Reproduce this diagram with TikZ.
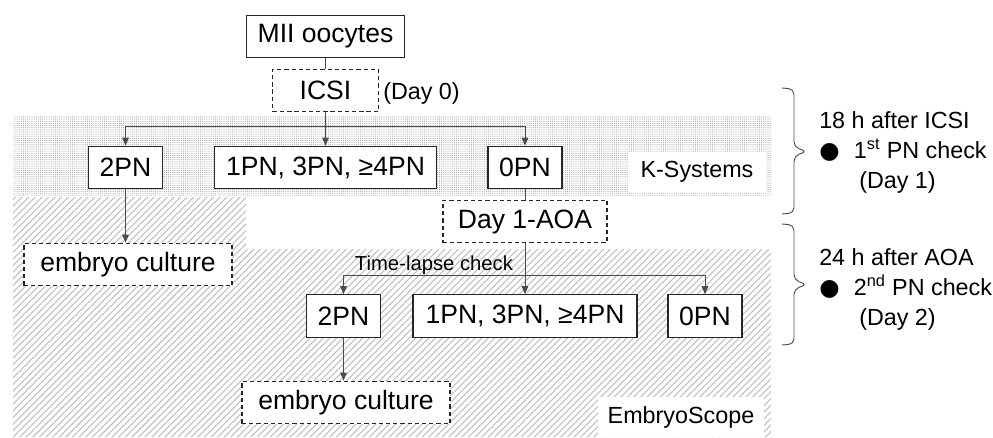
\documentclass[tikz,border=0pt]{standalone}
\usepackage{fontspec}
\setmainfont{Liberation Sans}
\newfontfamily\symfont{DejaVu Sans}
\usetikzlibrary{arrows.meta,calc,patterns.meta}

\begin{document}
\begin{tikzpicture}[
		x=0.75pt,
		y=-0.75pt,
		>={Triangle[length=6pt,width=5pt]},
		box/.style={draw=black!85,line width=0.8pt,inner sep=0pt,minimum height=32pt,fill=white,font=\fontsize{19.9}{24}\selectfont},
		dbox/.style={box,dash pattern=on 3.2pt off 2.2pt},
		flow/.style={->,draw=black!70,line width=0.7pt},
		link/.style={draw=black!70,line width=0.7pt},
		tag/.style={fill=white,inner sep=0pt,font=\fontsize{17.5}{21}\selectfont},
		note/.style={align=left,inner sep=0pt,anchor=west,font=\fontsize{17.5}{22.5}\selectfont},
		span/.style={draw=black!70,line width=0.7pt,rounded corners=4pt}
		]
		
		\useasboundingbox (0,0) rectangle (993,437);
		
		% =====================================================
		% Culture systems (background areas)
		% =====================================================
		\fill[pattern={Dots[distance=1.6pt,radius=0.4pt]},pattern color=gray!80]
		(13,116) rectangle (771,195);
		\fill[pattern={Lines[angle=45,distance=3.5pt,line width=0.8pt]},pattern color=gray!50]
		(13,197) -- (246,197) -- (246,249) -- (771,249) -- (771,437) -- (13,437) -- cycle;
		
		\node[tag,minimum width=103pt,minimum height=30pt] (ksys) at (697,172) {K-Systems};
		\node[tag,minimum width=125pt,minimum height=30pt] (escope) at (681,417) {EmbryoScope};
		
		% =====================================================
		% First PN check
		% =====================================================
		\node[box,minimum width=119pt] (oocytes) at (325.5,36.5) {MII oocytes};
		\node[dbox,minimum width=79pt] (icsi) at (325.5,90.5) {ICSI};
		\node[tag,fill=none,anchor=west] (dayzero) at (383,93) {(Day 0)};
		
		\node[box,minimum width=55pt] (twopnA) at (125.5,167.5) {2PN};
		\node[box,minimum width=167pt] (multipnA) at (325.5,167.5) {1PN, 3PN, ≥4PN};
		\node[box,minimum width=55.5pt] (zeropnA) at (525,167.5) {0PN};
		
		\node[dbox,minimum width=156pt] (cultA) at (128,264.5) {embryo culture};
		
		\coordinate (splitA) at (325.5,126);
		
		\draw[link] (oocytes) -- (icsi);
		\draw[flow] (icsi) -- (multipnA);
		\draw[flow] (splitA) -| (twopnA);
		\draw[flow] (splitA) -| (zeropnA);
		\draw[flow] (twopnA) -- (twopnA |- cultA.north);
		
		% =====================================================
		% Second PN check (after AOA)
		% =====================================================
		\node[dbox,minimum width=123pt] (aoa) at (525,221.5) {Day 1-AOA};
		\node[tag,fill=none,anchor=base,font=\fontsize{15.2}{18}\selectfont] (tlcheck) at (434,270) {Time-lapse check};
		
		\node[box,minimum width=55pt] (twopnB) at (343.5,316) {2PN};
		\node[box,minimum width=168pt] (multipnB) at (525,316) {1PN, 3PN, ≥4PN};
		\node[box,minimum width=55.5pt] (zeropnB) at (705,316) {0PN};
		
		\node[dbox,minimum width=156pt] (cultB) at (346,402.5) {embryo culture};
		
		\coordinate (splitB) at (525,275);
		
		\draw[link] (zeropnA) -- (aoa);
		\draw[flow] (aoa) -- (multipnB);
		\draw[flow] (splitB) -| (twopnB);
		\draw[flow] (splitB) -| (zeropnB);
		\draw[flow] (twopnB) -- (twopnB |- cultB.north);
		
		% =====================================================
		% Timing notes
		% =====================================================
		\draw[span] (782,88) -- (794,89) -- (794,147) -- (807,151.5) -- (794,156) -- (794,213) -- (782,214);
		\draw[span] (782,224) -- (794,225) -- (794,280) -- (807,284.5) -- (794,289) -- (794,344) -- (782,345);
		
		\node[note] (noteA) at (819,152)
		{18 h after ICSI\\
			\makebox[26pt][l]{\symfont ●}1\textsuperscript{st} PN check\\
			\hspace*{30pt}(Day 1)};
		\node[note] (noteB) at (819,289)
		{24 h after AOA\\
			\makebox[26pt][l]{\symfont ●}2\textsuperscript{nd} PN check\\
			\hspace*{30pt}(Day 2)};
		
	\end{tikzpicture}
\end{document}
